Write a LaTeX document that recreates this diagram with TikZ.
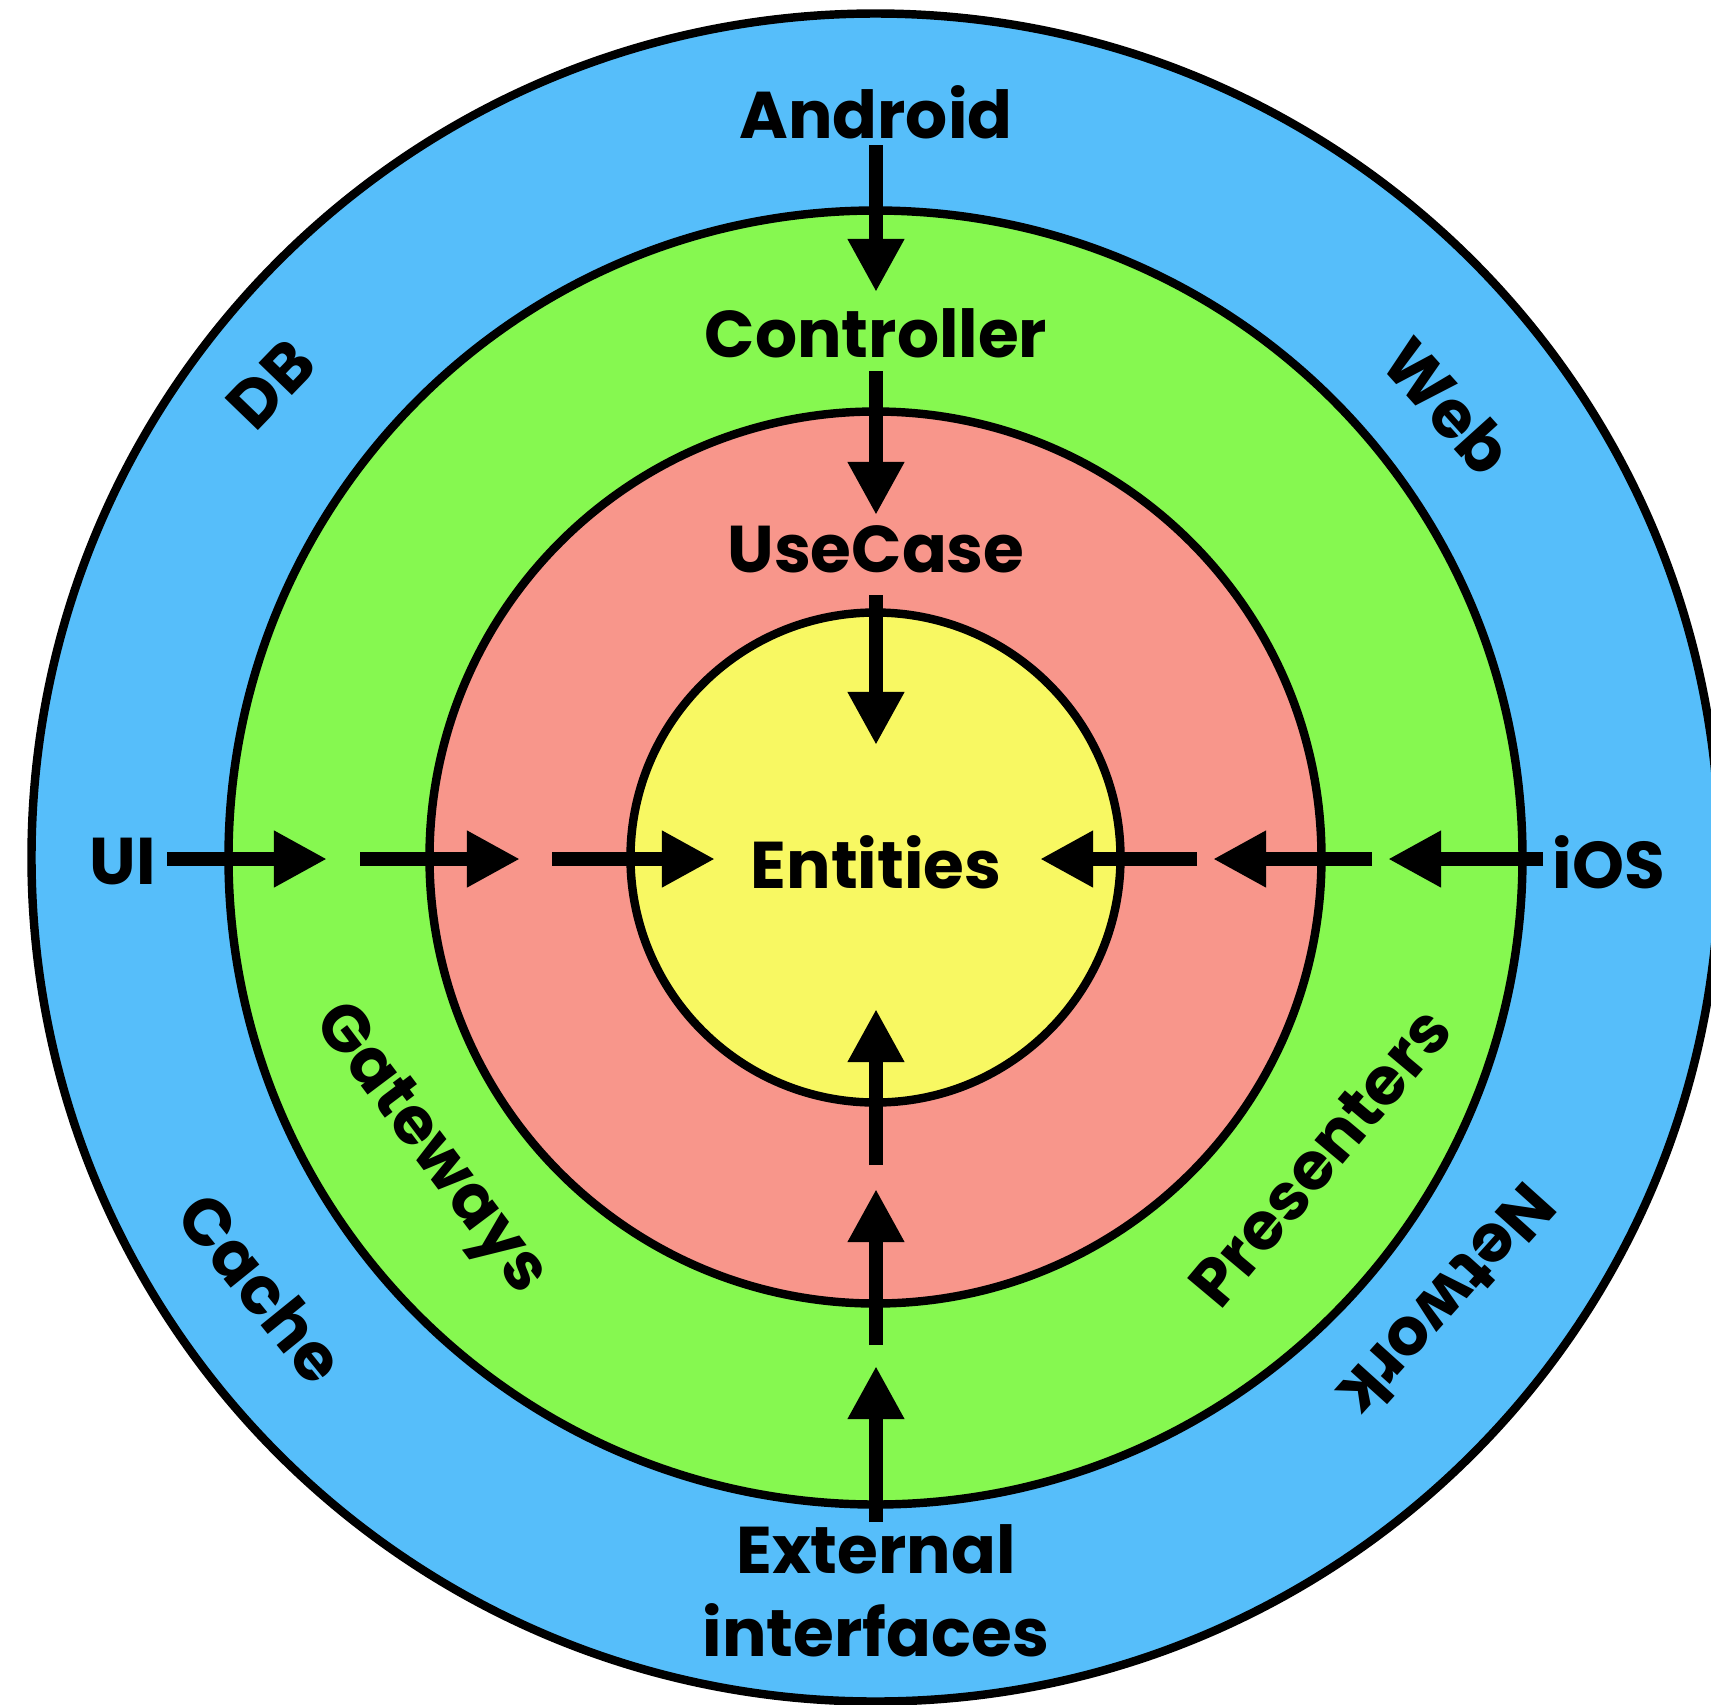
\documentclass[tikz,border=0pt]{standalone}
\usepackage{fontspec}
\setmainfont{Poppins}
\usetikzlibrary{arrows.meta}
\definecolor{ringblue}{RGB}{86,190,250}
\definecolor{ringgreen}{RGB}{134,248,80}
\definecolor{ringred}{RGB}{248,150,139}
\definecolor{ringyellow}{RGB}{248,248,98}
\tikzset{
  ring/.style={draw=black, line width=2.4pt},
  lbl/.style={font=\bfseries\fontsize{18.8}{23.5}\selectfont, text=black, inner sep=0pt, align=center},
  flow/.style={line width=4pt, -{Triangle[length=0.53cm,width=0.53cm]}}
}
\begin{document}
\begin{tikzpicture}[x=0.01cm, y=-0.01cm]
\path[use as bounding box] (0,0) rectangle (1711,1705);
\clip (0,0) rectangle (1711,1705);
\coordinate (c) at (875.5,857.5);
\fill[ringblue] (c) circle[radius=844];
\draw[ring] (c) circle[radius=844];
\fill[ringgreen] (c) circle[radius=647];
\draw[ring] (c) circle[radius=647];
\fill[ringred] (c) circle[radius=446];
\draw[ring] (c) circle[radius=446];
\fill[ringyellow] (c) circle[radius=245];
\draw[ring] (c) circle[radius=245];

% labels
\node[lbl] (android) at (876,112) {Android};
\node[lbl] (controller) at (876,333) {Controller};
\node[lbl] (usecase) at (876,549) {UseCase};
\node[lbl] (entities) at (876,862) {Entities};
\node[lbl] (ui) at (123,862) {UI};
\node[lbl] (ios) at (1609,862) {iOS};
\node[lbl] (ext) at (876,1591) {External\\interfaces};
\node[lbl, rotate=46] (db) at (271,384) {DB};
\node[lbl, rotate=-48] (web) at (1448,406) {Web};
\node[lbl, rotate=-51] (cache) at (262,1288) {Cache};
\node[lbl, rotate=-132] (network) at (1448,1301) {Network};
\node[lbl, rotate=-53] (gateways) at (428,1151) {Gateways};
\node[lbl, rotate=50] (presenters) at (1320,1157) {Presenters};

% arrow end points
\coordinate (t0) at (876,145);
\coordinate (t1) at (876,292);
\coordinate (t2) at (876,371);
\coordinate (t3) at (876,515);
\coordinate (t4) at (876,595);
\coordinate (t5) at (876,745);
\coordinate (b0) at (876,1522);
\coordinate (b1) at (876,1366);
\coordinate (b2) at (876,1345);
\coordinate (b3) at (876,1189);
\coordinate (b4) at (876,1165);
\coordinate (b5) at (876,1009);
\coordinate (l0) at (167,859);
\coordinate (l1) at (327,859);
\coordinate (l2) at (360,859);
\coordinate (l3) at (520,859);
\coordinate (l4) at (552,859);
\coordinate (l5) at (715,859);
\coordinate (r0) at (1543,859);
\coordinate (r1) at (1388,859);
\coordinate (r2) at (1372,859);
\coordinate (r3) at (1213,859);
\coordinate (r4) at (1197,859);
\coordinate (r5) at (1040,859);

\draw[flow] (t0) -- (t1);
\draw[flow] (t2) -- (t3);
\draw[flow] (t4) -- (t5);
\draw[flow] (b0) -- (b1);
\draw[flow] (b2) -- (b3);
\draw[flow] (b4) -- (b5);
\draw[flow] (l0) -- (l1);
\draw[flow] (l2) -- (l3);
\draw[flow] (l4) -- (l5);
\draw[flow] (r0) -- (r1);
\draw[flow] (r2) -- (r3);
\draw[flow] (r4) -- (r5);
\end{tikzpicture}
\end{document}
